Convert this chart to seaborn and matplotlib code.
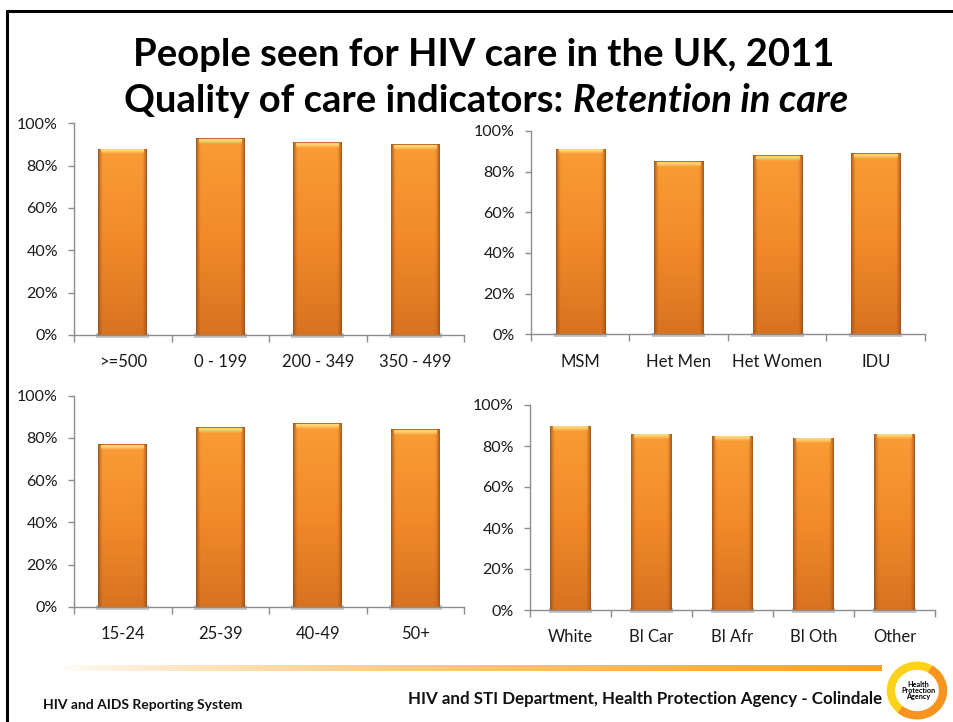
import numpy as np
import pandas as pd
import matplotlib
matplotlib.use("Agg")
import matplotlib.pyplot as plt
import seaborn as sns
from matplotlib.colors import to_rgb
from matplotlib.patches import Rectangle, Arc
from matplotlib.lines import Line2D

# Retention in care (%) by patient group, 2011
cd4_groups = [">=500", "0 - 199", "200 - 349", "350 - 499"]
cd4_retained = [88, 93, 91, 90]

exposure_groups = ["MSM", "Het Men", "Het Women", "IDU"]
exposure_retained = [91, 85, 88, 89]

age_groups = ["15-24", "25-39", "40-49", "50+"]
age_retained = [77, 85, 87, 84]

ethnic_groups = ["White", "Bl Car", "Bl Afr", "Bl Oth", "Other"]
ethnic_retained = [90, 86, 85, 84, 86]

y_ticks = [0, 20, 40, 60, 80, 100]

title_line1 = "People seen for HIV care in the UK, 2011"
title_line2a = "Quality of care indicators: "
title_line2b = "Retention in care"
footer_left = "HIV and AIDS Reporting System"
footer_right = "HIV and STI Department, Health Protection Agency - Colindale"

W, H = 954, 722
sns.set_style("white")
plt.rcParams["font.family"] = ["Lato", "DejaVu Sans"]

fig = plt.figure(figsize=(W / 100, H / 100), dpi=100)
fig.patch.set_facecolor("white")


def px_axes(left, top, right, bottom, **kw):
    return fig.add_axes([left / W, 1 - bottom / H, (right - left) / W, (bottom - top) / H], **kw)


AXIS_GREY = "#8c8c8c"
TOP_C = np.array(to_rgb("#FA9C35"))
MID_C = np.array(to_rgb("#F28A2A"))
BOT_C = np.array(to_rgb("#D97220"))
EDGE_C = np.array(to_rgb("#9E5118"))
HI_C = np.array(to_rgb("#FFD779"))


def bar_texture(h_px, w_px):
    rows = max(int(round(h_px)), 4)
    cols = max(int(round(w_px)), 4)
    t = np.linspace(0, 1, rows)[:, None, None]
    base = np.where(t < 0.5,
                    (1 - 2 * t) * TOP_C + 2 * t * MID_C,
                    (2 - 2 * t) * MID_C + (2 * t - 1) * BOT_C)
    base = np.broadcast_to(base, (rows, cols, 3)).copy()
    u = np.linspace(0, 1, cols)[None, :, None]
    d = np.minimum(u, 1 - u) * cols
    e = np.clip(1 - d / 5.0, 0, 1) ** 1.6 * 0.85
    img = base * (1 - e) + EDGE_C * e
    # glossy rim along the top edge
    for r, wgt in zip(range(1, 6), [0.95, 0.9, 0.7, 0.4, 0.15]):
        if r < rows:
            inner = (d[0, :, 0] > 3).astype(float)[:, None]
            img[r] = img[r] * (1 - wgt * inner) + HI_C * wgt * inner
    img[0] = img[0] * 0.4 + EDGE_C * 0.6
    return np.clip(img, 0, 1)


def draw_panel(cats, vals, box):
    ax = px_axes(*box)
    df = pd.DataFrame({"group": cats, "retained": vals})
    sns.barplot(data=df, x="group", y="retained", ax=ax, width=0.5,
                color="#F39030", saturation=1, linewidth=0, zorder=2)
    n = len(cats)
    ax.set_xlim(-0.5, n - 0.5)
    ax.set_ylim(0, 100)
    ax.set_xlabel("")
    ax.set_ylabel("")
    ax.set_yticks(y_ticks)
    ax.set_yticklabels([f"{v}%" for v in y_ticks])
    ax.set_xticks(np.arange(-0.5, n, 1.0), minor=True)
    ax.tick_params(axis="x", which="major", length=0, pad=14, labelsize=12, labelcolor="#1a1a1a")
    ax.tick_params(axis="x", which="minor", length=5, width=1, color=AXIS_GREY, direction="out")
    ax.tick_params(axis="y", which="major", length=4, width=1, color=AXIS_GREY, direction="out",
                   pad=7.5, labelsize=11.5, labelcolor="#1a1a1a")
    ax.tick_params(bottom=True, left=True, which="both")
    for s in ["top", "right"]:
        ax.spines[s].set_visible(False)
    for s in ["left", "bottom"]:
        ax.spines[s].set_color(AXIS_GREY)
        ax.spines[s].set_linewidth(1)
        ax.spines[s].set_zorder(4)
    ax.set_facecolor("none")

    to_px = ax.transData
    for p in list(ax.patches):
        x0, y0 = p.get_x(), p.get_y()
        w, h = p.get_width(), p.get_height()
        (px0, py0), (px1, py1) = to_px.transform([(x0, y0), (x0 + w, y0 + h)])
        img = bar_texture(abs(py1 - py0), abs(px1 - px0))
        im = ax.imshow(img, extent=[x0, x0 + w, y0, y0 + h], aspect="auto",
                       origin="upper", interpolation="bilinear", zorder=3)
        im.set_clip_path(p)
        # soft grey shadow at the foot of each bar
        ax.add_patch(Rectangle((x0 - 0.02, -1.4), w + 0.04, 2.2, facecolor="#9a9a9a",
                               edgecolor="none", alpha=0.55, zorder=2.5, clip_on=False))
    ax.set_xlim(-0.5, n - 0.5)
    ax.set_ylim(0, 100)
    return ax


panels = [
    (cd4_groups, cd4_retained, (74, 123.3, 464, 335)),
    (exposure_groups, exposure_retained, (531, 131, 925, 334.3)),
    (age_groups, age_retained, (74, 395.7, 464, 606.7)),
    (ethnic_groups, ethnic_retained, (530, 405, 935, 610)),
]
for cats, vals, box in panels:
    draw_panel(cats, vals, box)

# Slide frame
fig.add_artist(Line2D([7 / W, 1], [1 - 11 / H, 1 - 11 / H], color="black", lw=2.2))
fig.add_artist(Line2D([7.5 / W, 7.5 / W], [0, 1 - 11 / H], color="black", lw=2.2))

# Title
title_kw = dict(fontsize=27.5, fontweight="bold", color="black", va="baseline")
fig.text(484 / W, 1 - 66 / H, title_line1, ha="center", **title_kw)
renderer = fig.canvas.get_renderer()
ta = fig.text(0, 1 - 112 / H, title_line2a, ha="left", **title_kw)
tb = fig.text(0, 1 - 112 / H, title_line2b, ha="left", style="italic", **title_kw)
wa = ta.get_window_extent(renderer).width
wb = tb.get_window_extent(renderer).width
start = 486 - (wa + wb) / 2
ta.set_x(start / W)
tb.set_x((start + wa) / W)

# Footer rule with fading gradient
rule_ax = px_axes(60, 665, 882, 671)
rule_ax.set_axis_off()
g = np.linspace(0, 1, 400)
rule_col = np.array(to_rgb("#FFA01A"))
rule = np.ones((1, 400, 4))
rule[0, :, :3] = rule_col
rule[0, :, 3] = np.clip(g ** 0.7, 0, 1)
rule_ax.imshow(rule, aspect="auto", interpolation="bilinear")

fig.text(43 / W, 1 - 709 / H, footer_left, fontsize=10, fontweight="bold", color="#111111",
         va="baseline", ha="left")
fig.text(882 / W, 1 - 704 / H, footer_right, fontsize=12.2, fontweight="bold", color="#111111",
         va="baseline", ha="right")

# Agency roundel
logo = px_axes(886, 661, 948, 720)
logo.set_axis_off()
logo.set_xlim(-1.1, 1.1)
logo.set_ylim(-1.1, 1.1)
logo.add_patch(Arc((0, 0), 1.85, 1.85, theta1=60, theta2=250, color="#FFD21A", lw=6))
logo.add_patch(Arc((0, 0), 1.85, 1.85, theta1=230, theta2=420, color="#F7941D", lw=6))
logo.text(0.05, 0.0, "Health\nProtection\nAgency", ha="center", va="center", fontsize=5.2,
          fontweight="bold", color="black", linespacing=0.9)

fig.savefig("out.png", dpi=100, facecolor="white")
